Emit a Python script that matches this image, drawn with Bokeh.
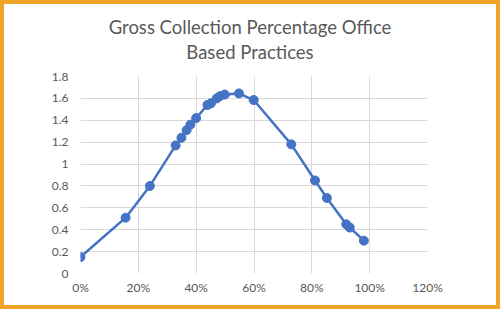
from bokeh.plotting import figure
from bokeh.models import ColumnDataSource, FixedTicker, Range1d, Div
from bokeh.layouts import column
from bokeh.embed import file_html
from bokeh.resources import INLINE

# data
pct = [0.00, 0.156, 0.24, 0.329, 0.349, 0.367, 0.38, 0.40, 0.439, 0.451, 0.471,
       0.482, 0.499, 0.548, 0.599, 0.729, 0.811, 0.852, 0.919, 0.931, 0.98]
val = [0.15, 0.51, 0.80, 1.17, 1.24, 1.31, 1.36, 1.42, 1.54, 1.555, 1.60,
       1.62, 1.635, 1.645, 1.585, 1.18, 0.85, 0.69, 0.45, 0.42, 0.30]
x_ticks = [0, 0.2, 0.4, 0.6, 0.8, 1.0, 1.2]
x_labels = ["0%", "20%", "40%", "60%", "80%", "100%", "120%"]
y_ticks = [0, 0.2, 0.4, 0.6, 0.8, 1.0, 1.2, 1.4, 1.6, 1.8]
y_labels = ["0", "0.2", "0.4", "0.6", "0.8", "1", "1.2", "1.4", "1.6", "1.8"]
title_lines = ["Gross Collection Percentage Office", "Based Practices"]

FONT = "Lato"
GRAY = "#595959"
BLUE = "#4472C4"
ORANGE = "#F0A526"

src = ColumnDataSource(dict(x=pct, y=val))

title_div = Div(
    text=('<div style="padding-top:11px;text-align:center;font-family:Lato;'
          'font-size:18.5px;line-height:25px;color:%s;width:492px;">%s<br>%s</div>'
          % (GRAY, title_lines[0], title_lines[1])),
    width=492, height=62,
    styles={"background-color": "white", "margin": "0", "padding": "0"})

p = figure(width=492, height=239, output_backend="svg", toolbar_location=None,
           x_range=Range1d(0, 1.2), y_range=Range1d(0, 1.8),
           min_border_left=76, min_border_right=69, min_border_top=10,
           min_border_bottom=32)
p.title = None

p.outline_line_color = None
p.background_fill_color = "white"
p.border_fill_color = "white"

for ax in (p.xaxis, p.yaxis):
    ax.axis_line_color = None
    ax.major_tick_line_color = None
    ax.minor_tick_line_color = None
    ax.major_tick_out = 0
    ax.major_tick_in = 0
    ax.major_label_text_font = FONT
    ax.major_label_text_font_size = "12px"
    ax.major_label_text_color = GRAY

p.xaxis.ticker = FixedTicker(ticks=x_ticks)
p.xaxis.major_label_overrides = {t: l for t, l in zip(x_ticks, x_labels)}
p.yaxis.ticker = FixedTicker(ticks=y_ticks)
p.yaxis.major_label_overrides = {t: l for t, l in zip(y_ticks, y_labels)}
p.xaxis.major_label_standoff = 6
p.yaxis.major_label_standoff = 12

p.xgrid.ticker = FixedTicker(ticks=x_ticks)
p.ygrid.ticker = FixedTicker(ticks=y_ticks)
for g in (p.xgrid, p.ygrid):
    g.grid_line_color = "#D9D9D9"
    g.grid_line_width = 1

p.line("x", "y", source=src, line_color=BLUE, line_width=2.5)
p.scatter("x", "y", source=src, size=9, fill_color=BLUE, line_color=BLUE)

layout = column(title_div, p, spacing=0,
                styles={"background-color": "white", "padding": "4px 4px 4px 4px",
                        "box-shadow": "inset 0 0 0 4px %s" % ORANGE})

open("out.html", "w").write(file_html(layout, INLINE))
